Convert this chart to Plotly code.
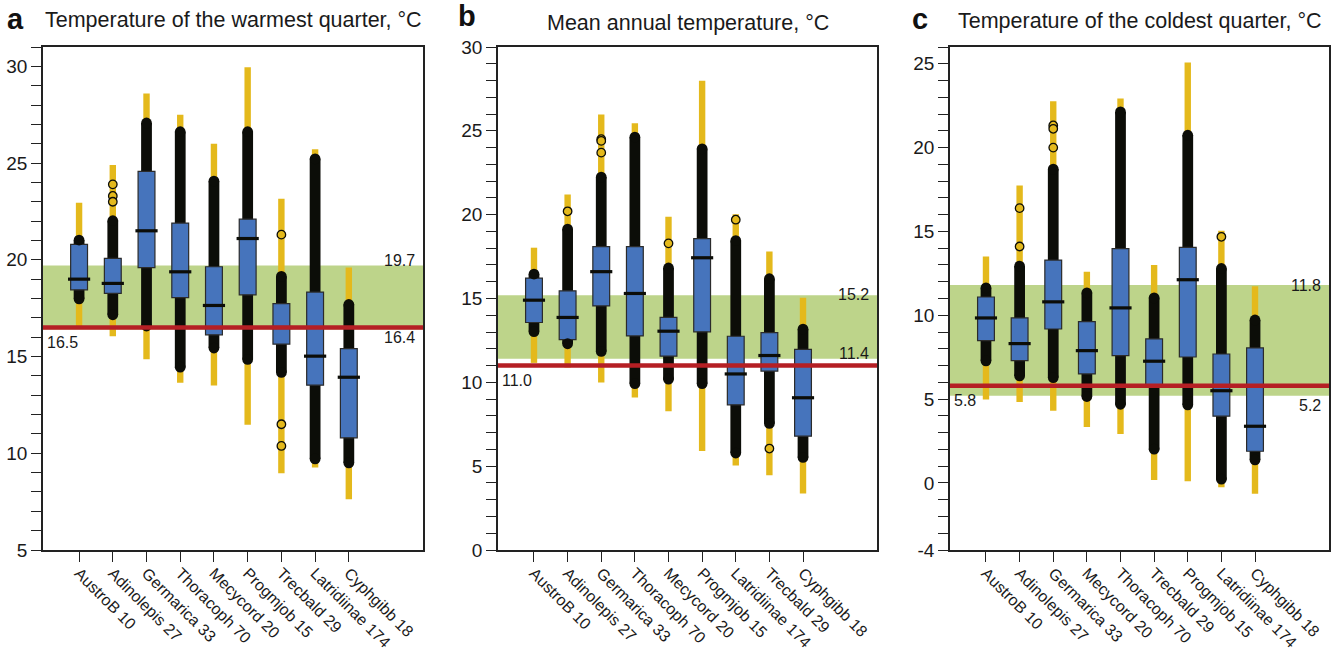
import plotly.graph_objects as go

W, H = 1343, 653

# ---------------- data ----------------
cats_a = ["AustroB 10", "Adinolepis 27", "Germarica 33", "Thoracoph 70", "Mecycord 20",
          "Progmjob 15", "Trecbald 29", "Latridiinae 174", "Cyphgibb 18"]
a_min = [16.45, 16.05, 14.86, 13.64, 13.5, 11.47, 8.97, 9.26, 7.62]
a_max = [22.95, 24.9, 28.6, 27.5, 26.0, 29.95, 23.15, 25.72, 19.6]
a_plo = [17.7, 16.88, 16.3, 14.17, 15.16, 14.57, 13.9, 9.43, 9.22]
a_phi = [21.3, 22.3, 27.35, 26.9, 24.35, 26.9, 19.42, 25.5, 17.97]
a_q1 = [18.45, 18.26, 19.6, 18.05, 16.12, 18.19, 15.64, 13.52, 10.8]
a_med = [19.0, 18.78, 21.5, 19.38, 17.64, 21.1, 16.5, 15.02, 13.93]
a_q3 = [20.8, 20.07, 24.57, 21.9, 19.64, 22.1, 17.74, 18.33, 15.41]
a_out_idx = [1, 1, 1, 6, 6, 6]
a_out_val = [23.9, 23.3, 23.0, 21.3, 11.5, 10.38]
a_band = [16.4, 19.7]
a_red = 16.5

cats_b = ["AustroB 10", "Adinolepis 27", "Germarica 33", "Thoracoph 70", "Mecycord 20",
          "Progmjob 15", "Latridiinae 174", "Trecbald 29", "Cyphgibb 18"]
b_min = [11.16, 10.88, 9.99, 9.1, 8.28, 5.9, 5.04, 4.46, 3.37]
b_max = [18.03, 21.2, 25.98, 25.45, 19.88, 27.99, 20.02, 17.8, 15.04]
b_plo = [12.7, 11.98, 11.52, 9.6, 9.87, 9.6, 5.46, 7.23, 5.2]
b_phi = [16.78, 19.46, 22.56, 24.95, 17.14, 24.25, 18.77, 16.5, 13.5]
b_q1 = [13.57, 12.55, 14.56, 12.77, 11.56, 13.01, 8.66, 10.67, 6.79]
b_med = [14.9, 13.87, 16.6, 15.3, 13.05, 17.43, 10.5, 11.6, 9.08]
b_q3 = [16.22, 15.46, 18.09, 18.09, 13.87, 18.57, 12.75, 12.97, 11.96]
b_out_idx = [1, 2, 2, 2, 4, 6, 7]
b_out_val = [20.2, 24.5, 24.4, 23.7, 18.29, 19.7, 6.05]
b_band = [11.4, 15.2]
b_red = 11.0

cats_c = ["AustroB 10", "Adinolepis 27", "Germarica 33", "Mecycord 20", "Thoracoph 70",
          "Trecbald 29", "Progmjob 15", "Latridiinae 174", "Cyphgibb 18"]
c_min = [4.97, 4.83, 4.31, 3.34, 2.92, 0.18, 0.1, -0.26, -0.64]
c_max = [13.5, 17.74, 22.77, 12.6, 22.93, 13.0, 25.08, 15.04, 11.73]
c_plo = [6.96, 6.06, 5.96, 4.83, 4.37, 1.69, 4.33, -0.1, 1.05]
c_phi = [11.96, 13.25, 19.04, 11.66, 22.45, 11.36, 21.06, 13.11, 10.04]
c_q1 = [8.49, 7.3, 9.18, 6.5, 7.59, 5.85, 7.51, 3.98, 1.89]
c_med = [9.84, 8.31, 10.8, 7.89, 10.44, 7.26, 12.12, 5.5, 3.38]
c_q3 = [11.09, 9.84, 13.29, 9.62, 13.97, 8.59, 14.05, 7.69, 8.05]
c_out_idx = [1, 1, 2, 2, 2, 7]
c_out_val = [16.39, 14.1, 21.32, 21.12, 20.0, 14.68]
c_band = [5.2, 11.8]
c_red = 5.8

titles = ["Temperature of the warmest quarter, °C", "Mean annual temperature, °C",
          "Temperature of the coldest quarter, °C"]
letters = ["a", "b", "c"]
y_ranges = [[5, 31], [0, 30], [-4, 26]]
y_ticks = [[5, 10, 15, 20, 25, 30], [0, 5, 10, 15, 20, 25, 30], [-4, 0, 5, 10, 15, 20, 25]]

# ---------------- style ----------------
YELLOW = "#E4B91C"
BLACK = "#0c0d08"
BLUE = "#4674BC"
GREEN = "#BDD48A"
RED = "#B51F24"
FONT = "Liberation Sans, Arial, Helvetica, sans-serif"
TXT = "#1a1a1a"

X_RANGE = [-1.07, 10.2]
PLOT_TOP, PLOT_BOT = 47, 550
X_DOMS = [(43, 423), (498, 877), (950, 1329)]
TITLE_Y = [20, 23, 21]
LETTER_POS = [(15, 19), (467, 16), (920, 19)]

W_YEL, W_BLK, W_BOX = 0.19, 0.32, 0.5

panels = [
    (cats_a, a_min, a_max, a_plo, a_phi, a_q1, a_med, a_q3, a_out_idx, a_out_val, a_band, a_red),
    (cats_b, b_min, b_max, b_plo, b_phi, b_q1, b_med, b_q3, b_out_idx, b_out_val, b_band, b_red),
    (cats_c, c_min, c_max, c_plo, c_phi, c_q1, c_med, c_q3, c_out_idx, c_out_val, c_band, c_red),
]

fig = go.Figure()
annotations = []
shapes = []

for k, (cats, vmin, vmax, plo, phi, q1, med, q3, oidx, oval, band, red) in enumerate(panels):
    xa = "x" if k == 0 else f"x{k+1}"
    ya = "y" if k == 0 else f"y{k+1}"
    xs = list(range(len(cats)))
    x0p, x1p = X_DOMS[k]
    px_per_x = (x1p - x0p) / (X_RANGE[1] - X_RANGE[0])
    px_per_y = (PLOT_BOT - PLOT_TOP) / (y_ranges[k][1] - y_ranges[k][0])
    cap_px = W_BLK * px_per_x
    r = cap_px / 2 / px_per_y

    # yellow full range
    fig.add_trace(go.Bar(x=xs, base=vmin, y=[b - a for a, b in zip(vmin, vmax)], width=W_YEL,
                         marker=dict(color=YELLOW, line=dict(width=0)), xaxis=xa, yaxis=ya,
                         showlegend=False, hoverinfo="skip"))
    # black inner range with rounded ends
    fig.add_trace(go.Bar(x=xs, base=[a + r for a in plo], y=[b - a - 2 * r for a, b in zip(plo, phi)],
                         width=W_BLK, marker=dict(color=BLACK, line=dict(width=0)),
                         xaxis=xa, yaxis=ya, showlegend=False, hoverinfo="skip"))
    fig.add_trace(go.Scatter(x=xs + xs, y=[a + r for a in plo] + [b - r for b in phi], mode="markers",
                             marker=dict(color=BLACK, size=cap_px, line=dict(width=0)),
                             xaxis=xa, yaxis=ya, showlegend=False, hoverinfo="skip"))
    # blue IQR box
    fig.add_trace(go.Bar(x=xs, base=q1, y=[b - a for a, b in zip(q1, q3)], width=W_BOX,
                         marker=dict(color=BLUE, line=dict(width=1.2, color="#2b2b2b")),
                         xaxis=xa, yaxis=ya, showlegend=False, hoverinfo="skip"))
    # median
    fig.add_trace(go.Scatter(x=xs, y=med, mode="markers",
                             marker=dict(symbol="line-ew", size=W_BOX * px_per_x - 1,
                                         line=dict(width=3.2, color=BLACK)),
                             xaxis=xa, yaxis=ya, showlegend=False, hoverinfo="skip"))
    # outliers
    fig.add_trace(go.Scatter(x=oidx, y=oval, mode="markers",
                             marker=dict(symbol="circle", size=8.5, color=YELLOW,
                                         line=dict(width=1.3, color=BLACK)),
                             xaxis=xa, yaxis=ya, showlegend=False, hoverinfo="skip"))

    xref_dom = f"{xa} domain"
    shapes.append(dict(type="rect", xref=xref_dom, yref=ya, x0=0, x1=1, y0=band[0], y1=band[1],
                       fillcolor=GREEN, line=dict(width=0), layer="below"))
    shapes.append(dict(type="line", xref=xref_dom, yref=ya, x0=0, x1=1, y0=red, y1=red,
                       line=dict(color=RED, width=4.5), layer="above"))

    ann_font = dict(family=FONT, size=16, color=TXT)
    # band labels
    if k == 0:
        annotations.append(dict(xref=xref_dom, yref=ya, x=1, y=band[1], xanchor="right", yanchor="bottom",
                                xshift=-6, yshift=-5, text=f"{band[1]:.1f}", showarrow=False, font=ann_font))
        annotations.append(dict(xref=xref_dom, yref=ya, x=1, y=band[0], xanchor="right", yanchor="top",
                                xshift=-6, yshift=2, text=f"{band[0]:.1f}", showarrow=False, font=ann_font))
    elif k == 1:
        annotations.append(dict(xref=xref_dom, yref=ya, x=1, y=band[1], xanchor="right", yanchor="middle",
                                xshift=-6, yshift=1, text=f"{band[1]:.1f}", showarrow=False, font=ann_font))
        annotations.append(dict(xref=xref_dom, yref=ya, x=1, y=band[0], xanchor="right", yanchor="bottom",
                                xshift=-6, yshift=-5, text=f"{band[0]:.1f}", showarrow=False, font=ann_font))
    else:
        annotations.append(dict(xref=xref_dom, yref=ya, x=1, y=band[1], xanchor="right", yanchor="middle",
                                xshift=-6, yshift=0, text=f"{band[1]:.1f}", showarrow=False, font=ann_font))
        annotations.append(dict(xref=xref_dom, yref=ya, x=1, y=band[0], xanchor="right", yanchor="top",
                                xshift=-6, yshift=1, text=f"{band[0]:.1f}", showarrow=False, font=ann_font))
    annotations.append(dict(xref=xref_dom, yref=ya, x=0, y=red, xanchor="left", yanchor="top",
                            xshift=2, yshift=-4, text=f"{red:.1f}", showarrow=False, font=ann_font))

    # title and panel letter
    annotations.append(dict(xref="paper", yref="paper", x=(x0p + x1p) / 2 / W, y=1 - TITLE_Y[k] / H,
                            xanchor="center", yanchor="middle", text=titles[k], showarrow=False,
                            font=dict(family=FONT, size=21.5, color=TXT)))
    lx, ly = LETTER_POS[k]
    annotations.append(dict(xref="paper", yref="paper", x=lx / W, y=1 - ly / H,
                            xanchor="center", yanchor="middle", text=f"<b>{letters[k]}</b>", showarrow=False,
                            font=dict(family=FONT, size=29, color="#111")))

    axis_common = dict(showline=True, linecolor="#222", linewidth=1.5, mirror=True, showgrid=False,
                       zeroline=False, ticks="outside", ticklen=10, tickwidth=1.2, tickcolor="#222",
                       automargin=False)
    fig.update_layout(**{
        ("xaxis" if k == 0 else f"xaxis{k+1}"): dict(
            domain=[x0p / W, x1p / W], anchor=ya, range=X_RANGE, tickmode="array", tickvals=xs,
            ticktext=cats, tickangle=45, ticklabelstandoff=-4,
            tickfont=dict(family=FONT, size=16, color=TXT), **axis_common),
        ("yaxis" if k == 0 else f"yaxis{k+1}"): dict(
            domain=[1 - PLOT_BOT / H, 1 - PLOT_TOP / H], anchor=xa, range=y_ranges[k],
            tickmode="array", tickvals=y_ticks[k], ticktext=[str(t) for t in y_ticks[k]],
            tickfont=dict(family=FONT, size=19, color=TXT),
            minor=dict(tickmode="linear", tick0=0, dtick=1, ticks="outside", ticklen=10,
                       tickwidth=1.2, tickcolor="#222"),
            **axis_common),
    })

fig.update_layout(width=W, height=H, margin=dict(l=0, r=0, t=0, b=0), barmode="overlay",
                  plot_bgcolor="white", paper_bgcolor="white", shapes=shapes, annotations=annotations,
                  font=dict(family=FONT, color=TXT))

fig.write_html("out.html", config={"displayModeBar": False},
               post_script="document.body.style.margin='0';document.body.style.overflow='hidden';")
